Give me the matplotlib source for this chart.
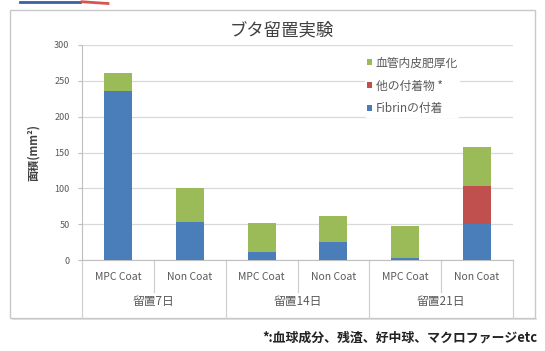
import numpy as np
import matplotlib
matplotlib.use('Agg')
from matplotlib import pyplot as plt
from matplotlib import transforms
from matplotlib.patches import Rectangle, Patch

plt.rcParams['font.family'] = ['Noto Sans CJK JP', 'DejaVu Sans']

# data
groups = ['留置7日', '留置14日', '留置21日']
coatings = ['MPC Coat', 'Non Coat']
fibrin = [236, 53, 11, 25, 3, 50]
other_deposits = [0, 0, 0, 0, 0, 53]
intima_thickening = [25, 48, 40, 37, 45, 55]
series_names = ['Fibrinの付着', '他の付着物 *', '血管内皮肥厚化']
yticks = [0, 50, 100, 150, 200, 250, 300]

COLOURS = ['#4a7ebb', '#c0504d', '#9bbb59']
TEXT_GREY = '#595959'
LINE_GREY = '#bfbfbf'

fig = plt.figure(figsize=(5.45, 3.51), dpi=100)

# chart frame
frame = Rectangle((10 / 545, 1 - 318 / 351), 525 / 545, 308 / 351, transform=fig.transFigure,
                  facecolor='white', edgecolor='#c8c8c8', linewidth=1.0, zorder=-1)
fig.patches.append(frame)
shadow = Rectangle((12 / 545, 1 - 320 / 351), 525 / 545, 2 / 351, transform=fig.transFigure,
                   facecolor='#e2e2e2', edgecolor='none', zorder=-2)
fig.patches.append(shadow)

# logo remnant at the top edge
fig.add_artist(plt.Line2D([20 / 545, 80 / 545], [0.995, 0.995], color='#3a5fa8', lw=2, transform=fig.transFigure))
fig.add_artist(plt.Line2D([82 / 545, 108 / 545], [0.995, 0.99], color='#d9534f', lw=2, transform=fig.transFigure))

ax = fig.add_axes([82 / 545, 1 - 260 / 351, 431 / 545, 215 / 351])
ax.set_facecolor('none')
ax.set_zorder(2)
x = np.arange(len(fibrin))
width = 0.39
bottom = np.zeros(len(x))
for vals, colour, name in zip([fibrin, other_deposits, intima_thickening], COLOURS, series_names):
    ax.bar(x, vals, width, bottom=bottom, color=colour, label=name, zorder=3)
    bottom += np.array(vals)

ax.set_xlim(-0.5, len(x) - 0.5)
ax.set_ylim(0, 300)
ax.set_yticks(yticks)
ax.set_yticklabels([str(t) for t in yticks], fontsize=6.5, color=TEXT_GREY)
ax.yaxis.grid(True, color='#d9d9d9', linewidth=0.9, zorder=0)
ax.set_axisbelow(True)
ax.tick_params(axis='y', length=3, color=LINE_GREY, pad=6)
ax.tick_params(axis='x', length=0, labelbottom=False)
for side in ['top', 'right']:
    ax.spines[side].set_visible(False)
ax.spines['left'].set_color(LINE_GREY)
ax.spines['bottom'].set_color(LINE_GREY)

ax.set_ylabel('面積(mm²)', fontsize=8, fontweight='bold', color='#404040', labelpad=10)

# two-level category axis
trans = transforms.blended_transform_factory(ax.transData, ax.transAxes)
row1 = -32 / 215
row2 = -58 / 215
for i in range(len(x)):
    ax.text(i, -17 / 215, coatings[i % 2], transform=trans, ha='center', va='center',
            fontsize=7.5, color=TEXT_GREY)
for i in range(1, len(x)):
    y_end = row2 if i % 2 == 0 else row1
    ax.plot([i - 0.5, i - 0.5], [0, y_end], transform=trans, color='#d0d0d0', lw=0.9, clip_on=False)
for edge in [-0.5, len(x) - 0.5]:
    ax.plot([edge, edge], [0, row2], transform=trans, color='#d0d0d0', lw=0.9, clip_on=False)
for g, name in enumerate(groups):
    ax.text(2 * g + 0.5, -41 / 215, name, transform=trans, ha='center', va='center',
            fontsize=8.5, color=TEXT_GREY)

fig.text(282 / 545, 1 - 30 / 351, 'ブタ留置実験', ha='center', va='center', fontsize=12.5, color='#404040')

handles = [Patch(facecolor=c) for c in COLOURS][::-1]
leg = ax.legend(handles, series_names[::-1], loc='upper left', bbox_to_anchor=(365 / 545, 1 - 54 / 351),
                bbox_transform=fig.transFigure, frameon=True, fontsize=8.5, handlelength=0.42,
                handleheight=0.42, handletextpad=0.3, labelspacing=0.85, borderpad=0.2,
                borderaxespad=0)
leg.get_frame().set_edgecolor('none')
leg.get_frame().set_facecolor('white')
leg.get_frame().set_alpha(1)
for t in leg.get_texts():
    t.set_color(TEXT_GREY)

fig.text(537 / 545, 1 - 338 / 351, '*:血球成分、残渣、好中球、マクロファージetc', ha='right', va='center',
         fontsize=9.3, fontweight='bold', color='#222222')

fig.savefig('out.png', dpi=100)
